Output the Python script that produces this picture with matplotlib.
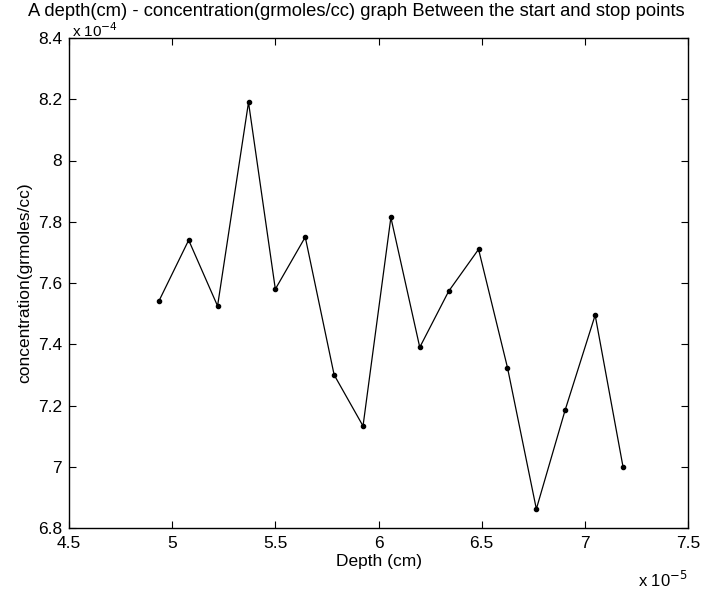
import numpy as np
import matplotlib.pyplot as plt

plt.rcParams['font.family'] = ['Liberation Sans', 'DejaVu Sans']

# depth (x 1e-5 cm) and concentration (x 1e-4 grmoles/cc)
depth = [4.935, 5.08, 5.22, 5.37, 5.50, 5.645, 5.785, 5.925, 6.06,
         6.20, 6.34, 6.485, 6.625, 6.765, 6.905, 7.05, 7.185]
conc = [7.54, 7.74, 7.525, 8.19, 7.58, 7.75, 7.30, 7.133, 7.814,
        7.39, 7.573, 7.71, 7.324, 6.862, 7.186, 7.495, 7.00]

xticks = [4.5, 5, 5.5, 6, 6.5, 7, 7.5]
xticklabels = ['4.5', '5', '5.5', '6', '6.5', '7', '7.5']
yticks = [6.8, 7.0, 7.2, 7.4, 7.6, 7.8, 8.0, 8.2, 8.4]
yticklabels = ['6.8', '7', '7.2', '7.4', '7.6', '7.8', '8', '8.2', '8.4']

fig = plt.figure(figsize=(7.12, 5.9), dpi=100)
ax = fig.add_axes([69 / 712, 62 / 590, 619 / 712, 490 / 590])

ax.plot(depth, conc, color='black', linewidth=0.9, marker='o', markersize=3)

ax.set_xlim(4.5, 7.5)
ax.set_ylim(6.8, 8.4)
ax.set_xticks(xticks)
ax.set_xticklabels(xticklabels)
ax.set_yticks(yticks)
ax.set_yticklabels(yticklabels)
ax.tick_params(direction='in', top=True, right=True, labelsize=12.5, length=5)
ax.tick_params(axis='x', pad=6)
ax.tick_params(axis='y', pad=5)
for s in ax.spines.values():
    s.set_linewidth(1.0)

ax.set_xlabel('Depth (cm)', fontsize=12.5, labelpad=2)
ax.set_ylabel('concentration(grmoles/cc)', fontsize=12.5, labelpad=4)

fig.text(688 / 712, 1 - 587 / 590, r'x 10$^{-5}$', fontsize=12, ha='right', va='baseline')
fig.text(72 / 712, 1 - 37 / 590, r'x 10$^{-4}$', fontsize=11, ha='left', va='baseline')
fig.text(356 / 712, 1 - 16 / 590,
         'A depth(cm) - concentration(grmoles/cc) graph Between the start and stop points',
         fontsize=13.2, ha='center', va='baseline')

plt.savefig('out.png')
